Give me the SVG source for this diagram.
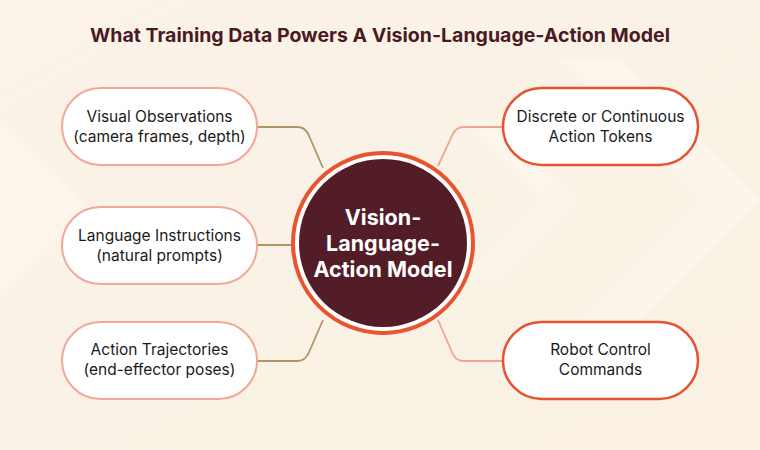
<svg xmlns="http://www.w3.org/2000/svg" width="760" height="450" viewBox="0 0 760 450">
<defs>
<linearGradient id="bg" x1="0" y1="0" x2="1" y2="1">
<stop offset="0" stop-color="#fbf3e8"/>
<stop offset="1" stop-color="#faf1e4"/>
</linearGradient>
<style>
.pillL{fill:#ffffff;stroke:#f2a898;stroke-width:2}
.pillR{fill:#ffffff;stroke:#e5532f;stroke-width:2.5}
.lbl{font-family:Inter,"Liberation Sans",sans-serif;font-size:15.5px;fill:#1a1a1a;text-anchor:middle}
.conL{fill:none;stroke:#ad9666;stroke-width:1.8}
.conR{fill:none;stroke:#f0a592;stroke-width:1.8}
.title{font-family:Inter,"Liberation Sans",sans-serif;font-weight:700;font-size:19px;fill:#4a1a24;text-anchor:middle}
.ctr{font-family:Inter,"Liberation Sans",sans-serif;font-weight:700;font-size:21.5px;fill:#ffffff;text-anchor:middle}
.deco{fill:#ffffff;opacity:0.22}
</style>
</defs>
<rect width="760" height="450" fill="url(#bg)"/>
<g id="background-deco">
<polygon class="deco" points="0,120 90,210 0,300"/>
<polygon class="deco" points="560,60 700,200 560,340 620,340 760,200 620,60"/>
<polygon class="deco" points="460,120 540,200 460,280 500,280 580,200 500,120"/>
</g>
<text class="title" x="380" y="42" textLength="580" lengthAdjust="spacingAndGlyphs">What Training Data Powers A Vision-Language-Action Model</text>
<g id="connectors">
<path class="conL" d="M257,127 H298 Q306,127 310,138 L323,168"/>
<path class="conL" d="M257,245 H293"/>
<path class="conL" d="M257,361 H298 Q306,361 310,350 L323,320"/>
<path class="conR" d="M503,127 H463 Q455,127 451,138 L438,166"/>
<path class="conR" d="M503,361 H463 Q455,361 451,350 L438,320"/>
</g>
<g id="center">
<circle cx="383" cy="243" r="90" fill="#ffffff" stroke="#e9532f" stroke-width="4"/>
<circle cx="383" cy="243" r="84" fill="#521d27"/>
<text class="ctr" x="383" y="225">Vision-</text>
<text class="ctr" x="383" y="251">Language-</text>
<text class="ctr" x="383" y="277">Action Model</text>
</g>
<g id="visual-observations">
<rect class="pillL" x="62" y="88" width="195" height="77" rx="38.5"/>
<text class="lbl" x="159.5" y="122">Visual Observations</text>
<text class="lbl" x="159.5" y="142">(camera frames, depth)</text>
</g>
<g id="language-instructions">
<rect class="pillL" x="62" y="207" width="195" height="77" rx="38.5"/>
<text class="lbl" x="159.5" y="241">Language Instructions</text>
<text class="lbl" x="159.5" y="261">(natural prompts)</text>
</g>
<g id="action-trajectories">
<rect class="pillL" x="62" y="322" width="195" height="77" rx="38.5"/>
<text class="lbl" x="159.5" y="355">Action Trajectories</text>
<text class="lbl" x="159.5" y="375">(end-effector poses)</text>
</g>
<g id="action-tokens">
<rect class="pillR" x="503" y="88" width="195" height="77" rx="38.5"/>
<text class="lbl" x="600.5" y="122">Discrete or Continuous</text>
<text class="lbl" x="600.5" y="142">Action Tokens</text>
</g>
<g id="robot-control">
<rect class="pillR" x="503" y="322" width="195" height="77" rx="38.5"/>
<text class="lbl" x="600.5" y="355">Robot Control</text>
<text class="lbl" x="600.5" y="375">Commands</text>
</g>
</svg>
